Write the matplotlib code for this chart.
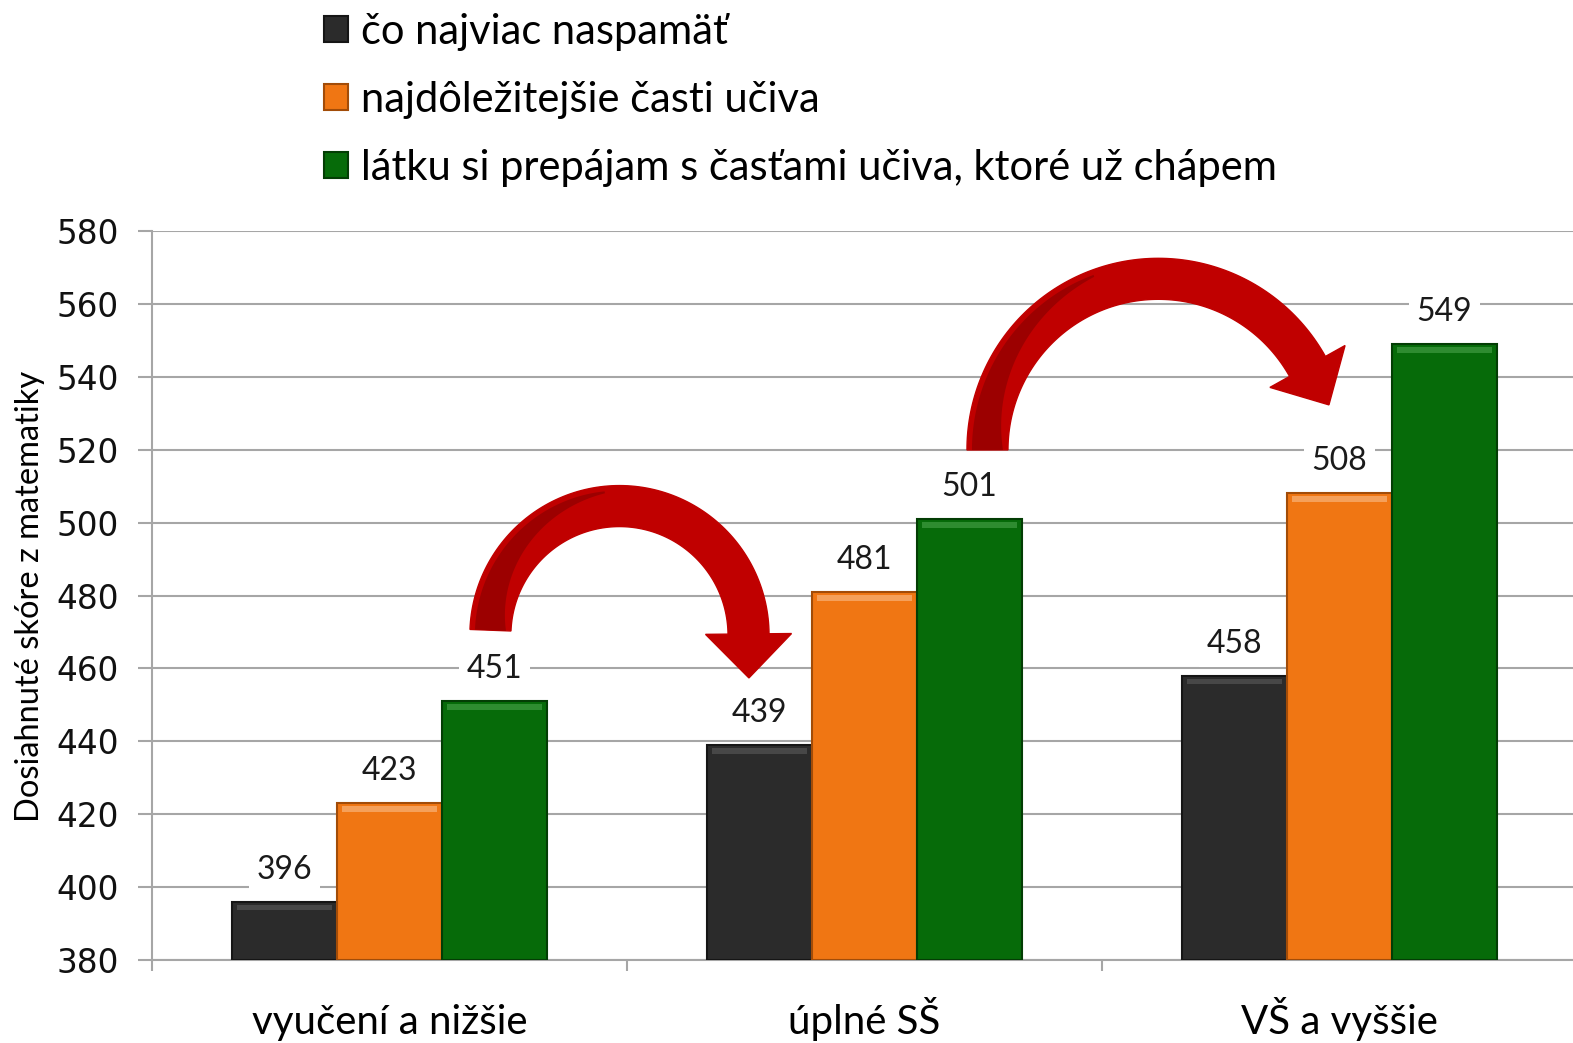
import matplotlib.pyplot as plt
from matplotlib.patches import Polygon
from matplotlib.transforms import IdentityTransform
import numpy as np

# data
categories = ["vyučení a nižšie", "úplné SŠ", "VŠ a vyššie"]
series_names = ["čo najviac naspamäť",
                "najdôležitejšie časti učiva",
                "látku si prepájam s časťami učiva, ktoré už chápem"]
memorize = [396, 439, 458]
important = [423, 481, 508]
connect = [451, 501, 549]

colors = ["#2B2B2B", "#F07613", "#066B09"]
edges = ["#151515", "#A24C08", "#033D04"]
tops = ["#474747", "#F5A05A", "#2E8C30"]

fig = plt.figure(figsize=(15.73, 10.43), dpi=100)
ax = fig.add_axes([152 / 1573, 83 / 1043, 1425 / 1573, 729 / 1043])

x = np.arange(len(categories))
w = 0.221
series = [memorize, important, connect]
bars = []
for i, vals in enumerate(series):
    pos = x + (i - 1) * w
    b = ax.bar(pos, np.array(vals) - 380, w, bottom=380, color=colors[i],
               edgecolor=edges[i], linewidth=1.5, zorder=3, label=series_names[i])
    bars.append(b)
    # lighter bevel on top
    ax.bar(pos, 1.6, w * 0.9, bottom=np.array(vals) - 2.4, color=tops[i],
           linewidth=0, zorder=4)
    for xp, v in zip(pos, vals):
        ax.annotate(str(v), (xp, v), xytext=(0, 23), textcoords="offset points",
                    ha="center", va="center", fontsize=23, family="Lato",
                    color="#1A1A1A", zorder=6,
                    bbox=dict(boxstyle="square,pad=0.25", fc="white", ec="none"))

ax.set_ylim(380, 580)
ax.set_xlim(-0.5, 2.5)
ax.set_yticks(np.arange(380, 581, 20))
ax.yaxis.grid(True, color="#A6A6A6", linewidth=1.5, zorder=0)
ax.set_axisbelow(True)
ax.tick_params(axis="y", length=10, width=1.5, color="#A6A6A6", pad=14,
               labelsize=23.5, labelcolor="#111111")
ax.set_xticks(x)
ax.set_xticklabels(categories, fontsize=29, family="Lato", va="baseline")
ax.set_xticks([-0.5, 0.5, 1.5, 2.5], minor=True)
ax.tick_params(axis="x", which="major", length=0, pad=53)
ax.tick_params(axis="x", which="minor", length=8, width=1.5, color="#A6A6A6")
for s in ["top", "right"]:
    ax.spines[s].set_visible(False)
for s in ["left", "bottom"]:
    ax.spines[s].set_color("#A6A6A6")
    ax.spines[s].set_linewidth(1.5)

fig.text(30 / 1573, 1 - 596 / 1043, "Dosiahnuté skóre z matematiky", rotation=90,
         ha="center", va="center", fontsize=23.5, family="Lato")

fig.legend(handles=bars, labels=series_names, loc="upper left",
           bbox_to_anchor=(324 / 1573, 1 - 13 / 1043), frameon=False,
           prop={"family": "Lato", "size": 30},
           handlelength=0.58, handleheight=0.58, handletextpad=0.3,
           labelspacing=0.72, borderpad=0, borderaxespad=0)


def arc_arrow(tail, base, sag, width=41, head_w=86, head_l=44, n=120):
    tail = np.asarray(tail, float)
    base = np.asarray(base, float)
    c = base - tail
    L = np.hypot(*c)
    u = c / L
    nrm = np.array([-u[1], u[0]])
    R = (L ** 2 / 4 + sag ** 2) / (2 * sag)
    ctr = (tail + base) / 2 + nrm * (sag - R)
    a1 = np.arctan2(*(tail - ctr)[::-1])
    a2 = np.arctan2(*(base - ctr)[::-1])
    if a2 > a1:
        a2 -= 2 * np.pi
    t = np.linspace(a1, a2, n)
    ring = lambda r, ang: ctr + np.column_stack([np.cos(ang), np.sin(ang)]) * np.atleast_1d(r)[:, None]
    outer = ring(np.full(n, R + width / 2), t)
    inner = ring(np.full(n, R - width / 2), t)
    rad = np.array([np.cos(a2), np.sin(a2)])
    d = np.array([np.sin(a2), -np.cos(a2)])
    p = ctr + R * rad
    head = [p + rad * head_w / 2, p + d * head_l, p - rad * head_w / 2]
    body = np.vstack([outer, head, inner[::-1]])
    fig.add_artist(Polygon(body, closed=True, fc="#C00000", ec="#C00000", lw=1,
                           transform=IdentityTransform(), zorder=5))
    # darker twisted part near the tail
    m = int(n * 0.47)
    tt = t[:m]
    frac = np.linspace(0, 1, m)
    r_out = np.full(m, R + width / 2 - 5)
    r_in = (R - width / 2 + 5) + frac * (width - 12)
    dark = np.vstack([ring(r_out, tt), ring(r_in, tt)[::-1]])
    fig.add_artist(Polygon(dark, closed=True, fc="#9C0000", ec="none",
                           transform=IdentityTransform(), zorder=5.1))


# curved arrows: (from group, series), tail offset px, (to group, series), head offset px, bulge px
arrow_specs = [((0, 2), (-4, 71), (1, 0), (-11, 111), 126),
               ((1, 2), (18, 69), (2, 1), (-32, 127), 128)]
for (g1, s1), off1, (g2, s2), off2, sag in arrow_specs:
    p1 = ax.transData.transform((x[g1] + (s1 - 1) * w, series[s1][g1])) + off1
    p2 = ax.transData.transform((x[g2] + (s2 - 1) * w, series[s2][g2])) + off2
    arc_arrow(p1, p2, sag)

fig.savefig("out.png", dpi=100)
